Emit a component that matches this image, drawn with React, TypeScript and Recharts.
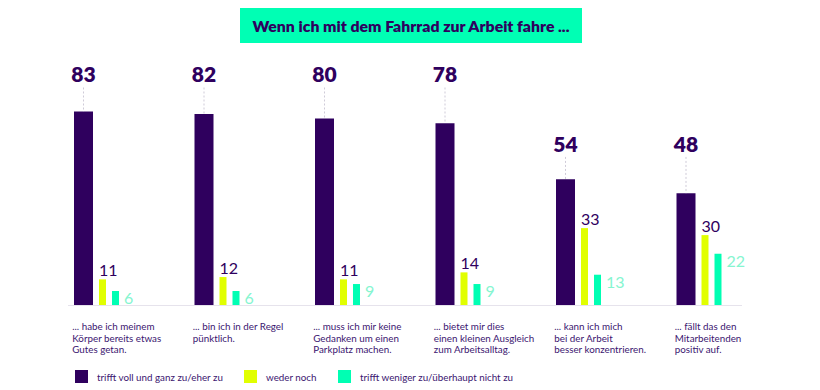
import { BarChart, Bar, XAxis, YAxis, LabelList } from 'recharts';

const categories = [
    '... habe ich meinem\nKörper bereits etwas\nGutes getan.',
    '... bin ich in der Regel\npünktlich.',
    '... muss ich mir keine\nGedanken um einen\nParkplatz machen.',
    '... bietet mir dies\neinen kleinen Ausgleich\nzum Arbeitsalltag.',
    '... kann ich mich\nbei der Arbeit\nbesser konzentrieren.',
    '... fällt das den\nMitarbeitenden\npositiv auf.',
];
const agree = [83, 82, 80, 78, 54, 48];
const neutral = [11, 12, 11, 14, 33, 30];
const disagree = [6, 6, 9, 9, 13, 22];

const seriesNames = ['trifft voll und ganz zu/eher zu', 'weder noch', 'trifft weniger zu/überhaupt nicht zu'];

const DARK = '#2f005e';
const LIME = '#e1ff00';
const MINT = '#00ffb3';
const FONT = 'Lato, "Noto Sans", sans-serif';

const data = categories.map((c, i) => ({ name: c, agree: agree[i], neutral: neutral[i], disagree: disagree[i] }));

// big numbers sit on one of two heights, with a dotted guide down to the bar
const AgreeLabel = (props: any) => {
    const { x, y, width, height, value } = props;
    const perUnit = height / value;
    const base = y + height;
    const level = value > 70 ? 95.5 : 65.7;
    const ty = base - level * perUnit;
    const cx = x + width / 2;
    return (
        <g>
            <line x1={cx} x2={cx} y1={ty + 5} y2={y} stroke="#cfcbd8" strokeDasharray="2 2" />
            <text x={cx} y={ty} textAnchor="middle" fill={DARK} fontFamily={FONT} fontWeight={800} fontSize={21}>{value}</text>
        </g>
    );
};

const NeutralLabel = (props: any) => {
    const { x, y, value } = props;
    return <text x={x} y={y - 3} fill={DARK} fontFamily={FONT} fontSize={16}>{value}</text>;
};

const DisagreeLabel = (props: any) => {
    const { x, y, width, value } = props;
    return <text x={x + width + 5} y={y + 13} fill="#85f5d0" fontFamily={FONT} fontSize={16}>{value}</text>;
};

const CategoryTick = (props: any) => {
    const { x, y, payload } = props;
    const lines = String(payload.value).split('\n');
    return (
        <text x={x - 24} y={y + 25} fill="#3b1670" fontFamily={FONT} fontSize={9.8} textAnchor="start">
            {lines.map((l, i) => (
                <tspan key={i} x={x - 24} dy={i === 0 ? 0 : 11.5}>{l}</tspan>
            ))}
        </text>
    );
};

export default function App() {
    const colors = [DARK, LIME, MINT];
    const itemWidths = [169, 94, undefined];
    return (
        <div style={{ position: 'absolute', left: 0, top: 0, width: 820, height: 390, background: '#fff', fontFamily: FONT }}>
            <div style={{ position: 'absolute', left: 240, top: 8, width: 342, height: 35, background: '#00ffb4', color: DARK, fontWeight: 800, fontSize: 15.8, display: 'flex', alignItems: 'center', justifyContent: 'center' }}>
                Wenn ich mit dem Fahrrad zur Arbeit fahre ...
            </div>
            <div style={{ position: 'absolute', left: 68, top: 305, width: 674, height: 1, background: '#e6e3ec' }} />
            <div style={{ position: 'absolute', left: 0, top: 0 }}>
                <BarChart width={820} height={390} data={data} margin={{ top: 72, right: 61, bottom: 0, left: 36 }} barGap={6}>
                    <XAxis dataKey="name" axisLine={false} tickLine={false} tickSize={0} tickMargin={0} height={85} interval={0} tick={<CategoryTick />} />
                    <YAxis hide domain={[0, 100]} />
                    <Bar dataKey="agree" fill={DARK} barSize={19} isAnimationActive={false}>
                        <LabelList dataKey="agree" content={<AgreeLabel />} />
                    </Bar>
                    <Bar dataKey="neutral" fill={LIME} barSize={7} isAnimationActive={false}>
                        <LabelList dataKey="neutral" content={<NeutralLabel />} />
                    </Bar>
                    <Bar dataKey="disagree" fill={MINT} barSize={7} isAnimationActive={false}>
                        <LabelList dataKey="disagree" content={<DisagreeLabel />} />
                    </Bar>
                </BarChart>
            </div>
            <div style={{ position: 'absolute', left: 75, top: 370, display: 'flex', alignItems: 'center', color: '#3b1670', fontSize: 9.8 }}>
                {seriesNames.map((n, i) => (
                    <div key={n} style={{ display: 'flex', alignItems: 'center', width: itemWidths[i], whiteSpace: 'nowrap' }}>
                        <span style={{ width: 13, height: 13, background: colors[i], marginRight: 9, display: 'inline-block', flexShrink: 0 }} />
                        <span>{n}</span>
                    </div>
                ))}
            </div>
        </div>
    );
}
